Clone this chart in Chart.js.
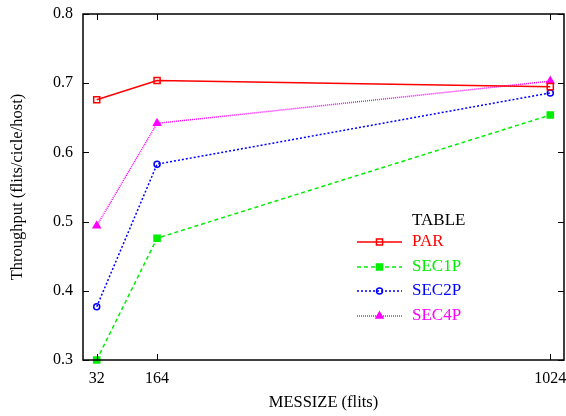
<!DOCTYPE html>
<html>
<head>
<meta charset="utf-8">
<script src="https://cdn.jsdelivr.net/npm/chart.js@4"></script>
<style>
  body { margin: 0; background: #fff; }
  #wrap { width: 566px; height: 416px; }
</style>
</head>
<body>
<div id="wrap"><canvas id="myChart" width="566" height="416"></canvas></div>
<script>
// data
var messizes = [32, 164, 1024];
var par = [0.676, 0.704, 0.695];
var sec1p = [0.300, 0.476, 0.654];
var sec2p = [0.377, 0.583, 0.686];
var sec4p = [0.494, 0.642, 0.703];
var yTicks = [0.3, 0.4, 0.5, 0.6, 0.7, 0.8];

var FONT = '"Liberation Serif", "Times New Roman", serif';

function toPoints(vals) {
    return messizes.map(function (x, i) {
        return { x: x, y: vals[i] };
    });
}

var series = [
    { label: 'PAR', data: par, color: '#ff0000', dash: [], style: 'rect', radius: 4.3, fill: false },
    { label: 'SEC1P', data: sec1p, color: '#00ee00', dash: [4, 3], style: 'rect', radius: 4.3, fill: true },
    { label: 'SEC2P', data: sec2p, color: '#0000ff', dash: [2, 2], style: 'circle', radius: 3, fill: false },
    { label: 'SEC4P', data: sec4p, color: '#ff00ff', dash: [1, 1], style: 'triangle', radius: 4, fill: true }
];

// frame, inward ticks, legend box and axis titles (gnuplot look)
var gnuplotLook = {
    id: 'gnuplotLook',
    afterDatasetsDraw: function (chart) {
        var ctx = chart.ctx;
        var a = chart.chartArea;
        var xs = chart.scales.x, ys = chart.scales.y;
        var tl = 6;
        ctx.save();
        ctx.strokeStyle = '#000';
        ctx.lineWidth = 1.5;
        ctx.setLineDash([]);
        ctx.strokeRect(a.left, a.top, a.right - a.left, a.bottom - a.top);
        ctx.lineWidth = 1;
        ctx.beginPath();
        messizes.forEach(function (v) {
            var px = Math.round(xs.getPixelForValue(v)) + 0.5;
            ctx.moveTo(px, a.bottom); ctx.lineTo(px, a.bottom - tl);
            ctx.moveTo(px, a.top); ctx.lineTo(px, a.top + tl);
        });
        yTicks.forEach(function (v) {
            var py = Math.round(ys.getPixelForValue(v)) + 0.5;
            ctx.moveTo(a.left, py); ctx.lineTo(a.left + tl, py);
            ctx.moveTo(a.right, py); ctx.lineTo(a.right - tl, py);
        });
        ctx.stroke();

        // legend
        var lx0 = a.left + 274, lx1 = a.left + 319, tx = a.left + 329;
        var rows = [a.top + 228, a.top + 253, a.top + 277, a.top + 302];
        ctx.font = '17px ' + FONT;
        ctx.textBaseline = 'middle';
        ctx.textAlign = 'left';
        ctx.fillStyle = '#000';
        ctx.fillText('TABLE', tx, a.top + 207);
        series.forEach(function (s, i) {
            var y = rows[i];
            ctx.strokeStyle = s.color;
            ctx.lineWidth = 1.5;
            ctx.setLineDash(s.dash);
            ctx.beginPath();
            ctx.moveTo(lx0, y); ctx.lineTo(lx1, y);
            ctx.stroke();
            ctx.setLineDash([]);
            ctx.fillStyle = s.fill ? s.color : 'rgba(0,0,0,0)';
            Chart.helpers.drawPoint(ctx, {
                pointStyle: s.style, radius: s.radius, borderWidth: 1.5, rotation: 0
            }, (lx0 + lx1) / 2, y);
            ctx.fillStyle = s.color;
            ctx.fillText(s.label, tx, y);
        });

        // axis titles
        ctx.fillStyle = '#000';
        ctx.font = '16.5px ' + FONT;
        ctx.textAlign = 'center';
        ctx.fillText('MESSIZE (flits)', (a.left + a.right) / 2, 403);
        ctx.translate(18, (a.top + a.bottom) / 2);
        ctx.rotate(-Math.PI / 2);
        ctx.fillText('Throughput (flits/cicle/host)', 0, 0);
        ctx.restore();
    }
};

var ctx = document.getElementById('myChart').getContext('2d');
var config = {
    type: 'line',
    data: {
        datasets: series.map(function (s) {
            return {
                label: s.label,
                data: toPoints(s.data),
                borderColor: s.color,
                backgroundColor: s.fill ? s.color : 'rgba(0,0,0,0)',
                borderWidth: 1.5,
                borderDash: s.dash,
                pointStyle: s.style,
                pointRadius: s.radius,
                pointBorderWidth: 1.5,
                pointBorderColor: s.color,
                pointBackgroundColor: s.fill ? s.color : 'rgba(0,0,0,0)',
                tension: 0,
                clip: false
            };
        })
    },
    options: {
        responsive: false,
        animation: false,
        layout: { autoPadding: false, padding: { left: 0, right: 2, top: 14, bottom: 0 } },
        plugins: {
            legend: { display: false },
            tooltip: { enabled: false }
        },
        scales: {
            x: {
                type: 'linear',
                min: 2,
                max: 1054,
                afterBuildTicks: function (scale) {
                    scale.ticks = messizes.map(function (v) { return { value: v }; });
                },
                afterFit: function (scale) {
                    scale.height = 56;
                    scale.paddingLeft = 0;
                    scale.paddingRight = 0;
                },
                grid: { display: false, drawTicks: false },
                border: { display: false },
                ticks: {
                    padding: 9,
                    color: '#000',
                    font: { family: FONT, size: 16 },
                    maxRotation: 0,
                    callback: function (v) { return String(v); }
                }
            },
            y: {
                min: 0.3,
                max: 0.8,
                afterBuildTicks: function (scale) {
                    scale.ticks = yTicks.map(function (v) { return { value: v }; });
                },
                afterFit: function (scale) {
                    scale.width = 83;
                    scale.paddingTop = 0;
                    scale.paddingBottom = 0;
                },
                grid: { display: false, drawTicks: false },
                border: { display: false },
                ticks: {
                    padding: 10,
                    color: '#000',
                    font: { family: FONT, size: 16 },
                    callback: function (v) { return v.toFixed(1); }
                }
            }
        }
    },
    plugins: [gnuplotLook]
};

var chart = new Chart(ctx, config);
</script>
</body>
</html>
